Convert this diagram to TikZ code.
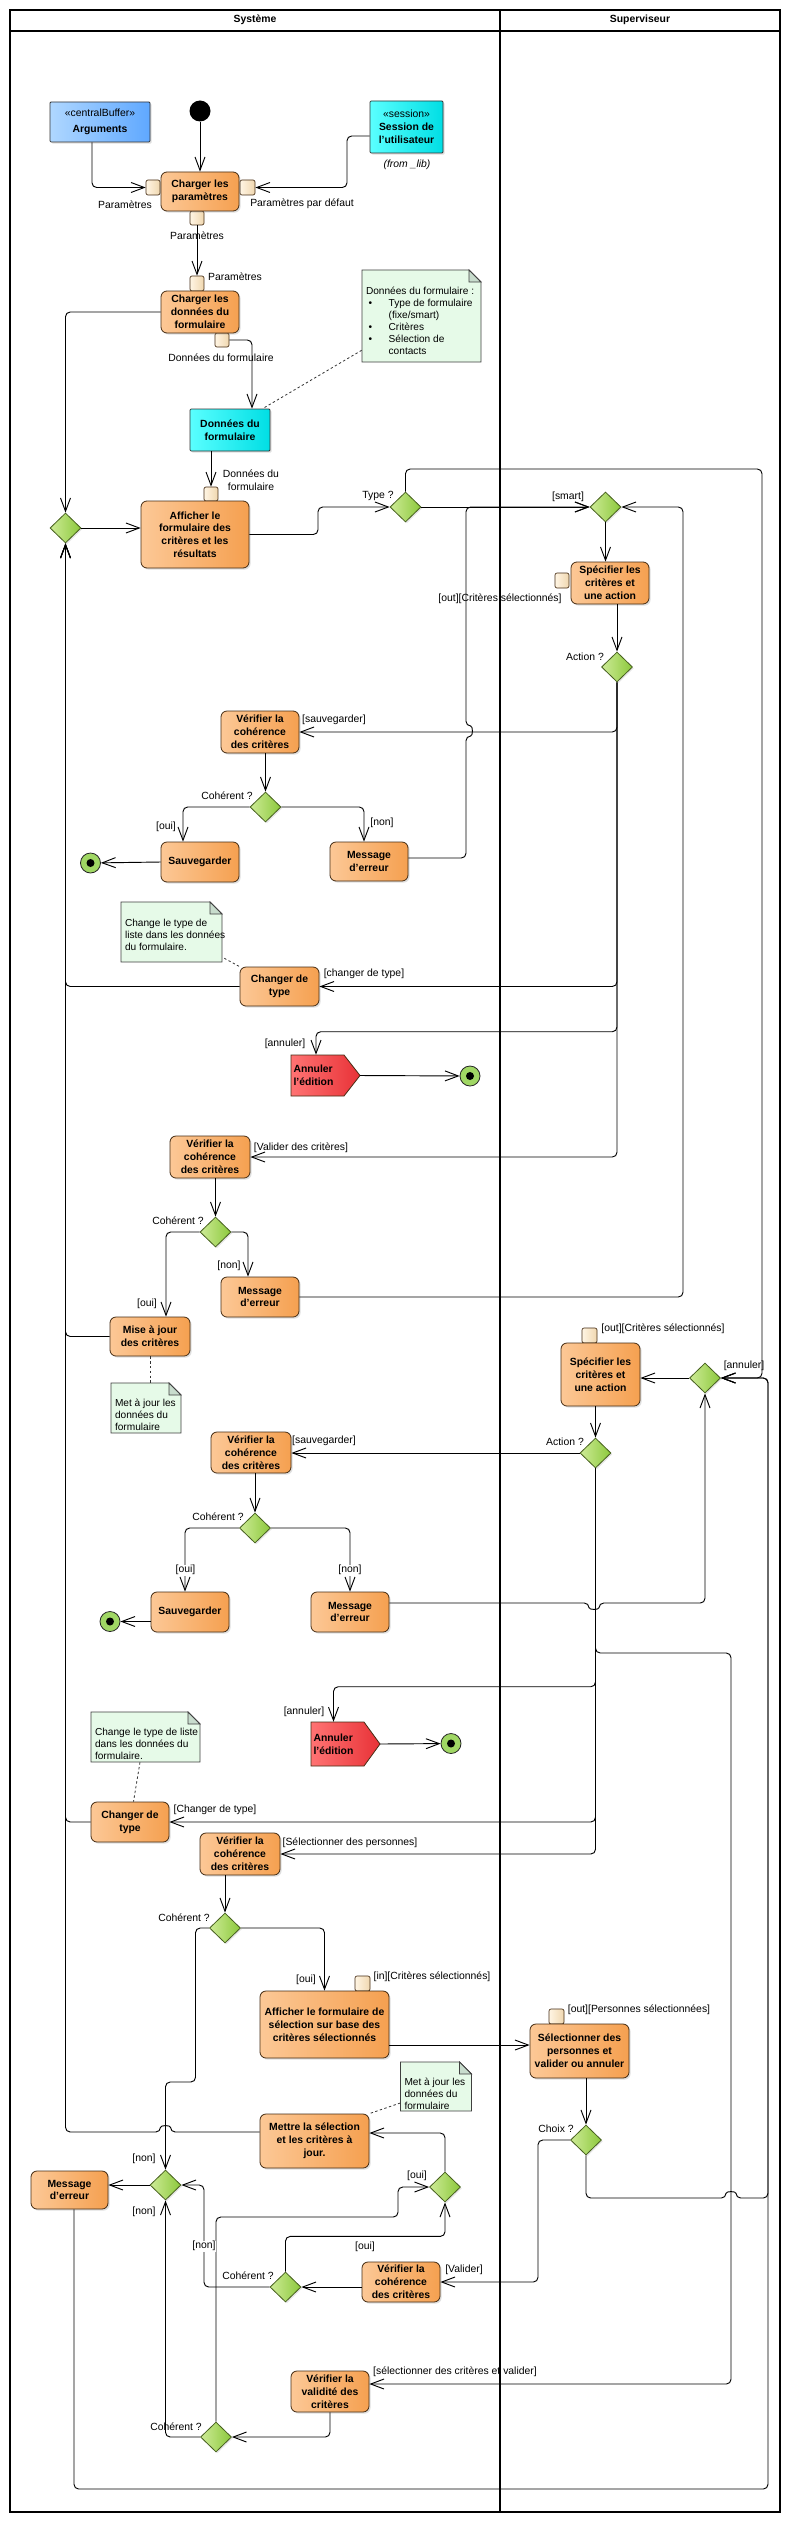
\documentclass[tikz,border=0pt]{standalone}
\usepackage{fontspec}
\setmainfont{Liberation Sans}
\usetikzlibrary{arrows.meta,shapes.geometric,calc,shadows}
\newcommand{\pxu}{0.75pt}
\definecolor{orL}{RGB}{252,200,150}
\definecolor{orR}{RGB}{245,160,80}
\definecolor{bord}{RGB}{70,45,20}
\definecolor{grL}{RGB}{205,235,150}
\definecolor{grR}{RGB}{140,200,60}
\definecolor{grB}{RGB}{70,95,30}
\definecolor{pinL}{RGB}{255,245,228}
\definecolor{pinR}{RGB}{240,215,175}
\definecolor{cyL}{RGB}{90,255,255}
\definecolor{cyR}{RGB}{0,222,228}
\definecolor{blL}{RGB}{175,215,255}
\definecolor{blR}{RGB}{95,168,255}
\definecolor{rdL}{RGB}{255,115,115}
\definecolor{rdR}{RGB}{232,50,55}
\definecolor{noteF}{RGB}{230,250,232}
\definecolor{foldF}{RGB}{200,220,205}
\definecolor{finG}{RGB}{160,215,100}
\tikzset{
  every node/.style={font=\fontsize{7.8pt}{9.6pt}\selectfont, inner sep=1pt},
  sz/.style 2 args={minimum width={(#1)*\pxu}, minimum height={(#2)*\pxu}},
  act/.style={rectangle, rounded corners=4.5pt, draw=bord, line width=0.6pt, left color=orL, right color=orR, align=center, font=\fontsize{7.8pt}{9.6pt}\selectfont\bfseries, drop shadow={opacity=0.25, shadow xshift=1.2pt, shadow yshift=-1.2pt}},
  pinbox/.style={rectangle, rounded corners=1.5pt, draw=bord, line width=0.5pt, left color=pinL, right color=pinR, inner sep=0pt},
  dec/.style={diamond, aspect=1, inner sep=0pt, draw=grB, line width=0.6pt, left color=grL, right color=grR, sz={31}{30}, drop shadow={opacity=0.2, shadow xshift=1pt, shadow yshift=-1pt}},
  obj/.style={rectangle, draw=black!80, line width=0.6pt, align=center, rounded corners=0.8pt, drop shadow={opacity=0.25, shadow xshift=1.2pt, shadow yshift=-1.2pt}},
  cyanobj/.style={obj, left color=cyL, right color=cyR},
  blueobj/.style={obj, left color=blL, right color=blR},
  startn/.style={circle, fill=black, inner sep=0pt, minimum size={21*\pxu}},
  finaln/.style={circle, draw=black!85, line width=0.6pt, fill=finG, inner sep=0pt, minimum size={20*\pxu}, path picture={\fill[black] (path picture bounding box.center) circle (3pt);}},
  flow/.style={draw=black, line width=0.7pt, rounded corners=3.5pt, -{Straight Barb[length=10pt,width=7.5pt]}},
  link/.style={draw=black!80, line width=0.6pt, dash pattern=on 1.8pt off 1.8pt},
  lbl/.style={inner sep=0.5pt, align=center},
  lblw/.style={lbl, fill=white},
  notedraw/.style={draw=black!75, line width=0.6pt, fill=noteF},
  notefold/.style={draw=black!75, line width=0.6pt, fill=foldF},
  notetext/.style={font=\fontsize{7.6pt}{9pt}\selectfont, align=left, inner sep=0pt},
  sigfill/.style={draw=bord, line width=0.6pt, left color=rdL, right color=rdR},
  sigtext/.style={font=\fontsize{7.8pt}{9.6pt}\selectfont\bfseries, align=left, inner sep=0pt},
  lanehead/.style={font=\fontsize{7.8pt}{9.6pt}\selectfont\bfseries},
  lane/.style={draw=black, line width=0.8pt}
}
% name, cx, cy, w, h, text dy, text
\newcommand\notebox[7]{%
  \draw[notedraw] ({#2-#4/2},{#3-#5/2}) -- ({#2+#4/2-12},{#3-#5/2}) -- ({#2+#4/2},{#3-#5/2+12}) -- ({#2+#4/2},{#3+#5/2}) -- ({#2-#4/2},{#3+#5/2}) -- cycle;
  \draw[notefold] ({#2+#4/2-12},{#3-#5/2}) -- ({#2+#4/2-12},{#3-#5/2+12}) -- ({#2+#4/2},{#3-#5/2+12}) -- cycle;
  \node[sz={#4}{#5}, inner sep=0pt] (#1) at (#2,#3) {};
  \node[notetext, anchor=west] (#1t) at ($(#1.west)+(4,#6)$) {#7};
}
% name, x1, x2, xtip, y1, y2, text
\newcommand\sigshape[7]{%
  \draw[sigfill] (#2,#5) -- (#3,#5) -- (#4,{(#5+#6)/2}) -- (#3,#6) -- (#2,#6) -- cycle;
  \node[sigtext, text width=36pt, sz={(#3-#2)}{(#6-#5)}] (#1) at ({(#2+#3)/2},{(#5+#6)/2}) {#7};
  \coordinate (#1tip) at (#4,{(#5+#6)/2});
}
\begin{document}
\begin{tikzpicture}[x=0.75pt,y=-0.75pt]
\useasboundingbox (0,0) rectangle (790,2522);
\fill[white] (0,0) rectangle (790,2522);
% swimlanes
\draw[lane] (10,10) rectangle (780,2512);
\draw[lane] (10,31) -- (780,31);
\draw[lane] (500,10) -- (500,2512);
\node[lanehead] (hsys) at (255,20) {Système};
\node[lanehead] (hsup) at (640,20) {Superviseur};

% notes
\notebox{note1}{421.5}{316}{119}{92}{5}{Données du formulaire :\\
\hspace*{2pt}\makebox[15pt][l]{\textbullet}Type de formulaire\\
\hspace*{17pt}(fixe/smart)\\
\hspace*{2pt}\makebox[15pt][l]{\textbullet}Critères\\
\hspace*{2pt}\makebox[15pt][l]{\textbullet}Sélection de\\
\hspace*{17pt}contacts}
\notebox{note2}{171.5}{932}{101}{60}{3}{Change le type de\\liste dans les données\\du formulaire.}
\notebox{note3}{146}{1408}{70}{50}{7}{Met à jour les\\données du\\formulaire}
\notebox{note4}{145.5}{1737}{109}{50}{7}{Change le type de liste\\dans les données du\\formulaire.}
\notebox{note5}{436}{2086.5}{71}{49}{7.5}{Met à jour les\\données du\\formulaire}

% objects and start
\node[blueobj, sz={100}{40}] (args) at (100,122) {«centralBuffer»\\[2pt]\textbf{Arguments}};
\node[startn] (start) at (200,111) {};
\node[cyanobj, sz={73}{52}] (sess) at (406.5,127) {«session»\\\textbf{Session de}\\\textbf{l'utilisateur}};
\node[lbl, font=\fontsize{7.8pt}{9.6pt}\selectfont\itshape] (fromlib) at (407,165) {(from \_lib)};

% pins
\node[pinbox, sz={14}{15}] (pinL1) at (153,187.5) {};
\node[pinbox, sz={15}{15}] (pinR1) at (247.5,187.5) {};
\node[pinbox, sz={14}{14}] (pinB1) at (197,218) {};
\node[pinbox, sz={14}{15}] (pinT2) at (197,283.5) {};
\node[pinbox, sz={14}{14}] (pinB2) at (222,340) {};
\node[pinbox, sz={14}{14}] (pinT3) at (211,494) {};
\node[pinbox, sz={14}{15}] (pinL4) at (562,580.5) {};
\node[pinbox, sz={15}{15}] (pinT5) at (589.5,1335.5) {};
\node[pinbox, sz={15}{15}] (pinT6) at (362.5,1983.5) {};
\node[pinbox, sz={15}{15}] (pinT7) at (556.5,2016.5) {};

% actions and decisions
\node[act, sz={78}{39}] (chp) at (200,191.5) {Charger les\\paramètres};
\node[act, sz={78}{42}] (cdf) at (200,312) {Charger les\\données du\\formulaire};
\node[cyanobj, sz={80}{42}] (df) at (230,430) {\textbf{Données du}\\\textbf{formulaire}};
\node[act, sz={108}{67}] (aff1) at (195,534.5) {Afficher le\\formulaire des\\critères et les\\résultats};
\node[dec] (merge1) at (65.5,528) {};
\node[dec] (type) at (405.5,507) {};
\node[dec] (smart) at (605.5,507) {};
\node[act, sz={78}{42}] (spec1) at (610,583) {Spécifier les\\critères et\\une action};
\node[dec] (act1) at (617,667) {};
\node[act, sz={78}{42}] (ver1) at (260,732) {Vérifier la\\cohérence\\des critères};
\node[dec] (coh1) at (265.5,807) {};
\node[act, sz={78}{40}] (sauv1) at (200,862) {Sauvegarder};
\node[finaln] (fin1) at (90.5,863) {};
\node[act, sz={78}{39}] (msg1) at (369,861.5) {Message\\d'erreur};
\node[act, sz={79}{39}] (chg1) at (279.5,986.5) {Changer de\\type};
\sigshape{ann1}{291}{344}{360}{1055}{1096}{Annuler\\l'édition}
\node[finaln] (fin2) at (470,1076) {};
\node[act, sz={80}{42}] (ver2) at (210,1157) {Vérifier la\\cohérence\\des critères};
\node[dec] (coh2) at (215.5,1232) {};
\node[act, sz={78}{40}] (msg2) at (260,1297) {Message\\d'erreur};
\node[act, sz={80}{39}] (maj) at (150,1336.5) {Mise à jour\\des critères};
\node[act, sz={79}{63}] (spec2) at (600.5,1374.5) {Spécifier les\\critères et\\une action};
\node[dec] (anndec) at (705,1378) {};
\node[dec] (act2) at (595.5,1453) {};
\node[act, sz={80}{41}] (ver3) at (251,1452.5) {Vérifier la\\cohérence\\des critères};
\node[dec] (coh3) at (255,1528) {};
\node[act, sz={78}{40}] (sauv2) at (190,1612) {Sauvegarder};
\node[finaln] (fin3) at (110,1621.5) {};
\node[act, sz={78}{40}] (msg3) at (350,1612) {Message\\d'erreur};
\sigshape{ann2}{311}{364}{380}{1722}{1766}{Annuler\\l'édition}
\node[finaln] (fin4) at (451,1743.5) {};
\node[act, sz={78}{40}] (chg2) at (130,1822) {Changer de\\type};
\node[act, sz={80}{42}] (ver4) at (240,1854) {Vérifier la\\cohérence\\des critères};
\node[dec] (coh4) at (225,1928) {};
\node[act, sz={129}{67}] (aff2) at (324.5,2024.5) {Afficher le formulaire de\\sélection sur base des\\critères sélectionnés};
\node[act, sz={99}{54}] (sel) at (579.5,2051) {Sélectionner des\\personnes et\\valider ou annuler};
\node[dec] (choix) at (586,2140) {};
\node[act, sz={109}{54}] (mettre) at (314.5,2141) {Mettre la sélection\\et les critères à\\jour.};
\node[dec] (ouim) at (445,2187) {};
\node[dec] (nonm) at (165.5,2185) {};
\node[act, sz={77}{38}] (msg4) at (69.5,2190) {Message\\d'erreur};
\node[dec] (coh5) at (285.5,2287) {};
\node[act, sz={78}{40}] (ver5) at (401,2282) {Vérifier la\\cohérence\\des critères};
\node[act, sz={78}{41}] (valid) at (330,2391.5) {Vérifier la\\validité des\\critères};
\node[dec] (coh6) at (216,2437) {};

% connectors
\draw[flow] ($(args.south)+(-8,0)$) |- (pinL1.west);
\draw[flow] (start) -- (chp.north);
\draw[flow] ($(sess.west)+(0,9)$) -| (347,160) |- (pinR1.east);
\draw[flow] (pinB1.south) -- (pinT2.north);
\draw[flow] (pinB2.east) -| ($(df.north)+(22,0)$);
\draw[link] ($(note1.south west)+(0,-12)$) -- ($(df.north east)+(-6,-1)$);
\draw[flow] (pinT3.north |- df.south) -- (pinT3.north);
\draw[flow] (cdf.west) -| (merge1.north);
\draw[flow] (merge1.east) -- (merge1.east -| aff1.west);
\draw[flow] (aff1.east) -| (318,520) |- (type.west);
\draw[flow] (type.north) |- (762,469) |- (anndec.east);
\draw[flow] (type.east) -- (smart.west);
\draw[flow] (smart.south) -- (smart.south |- spec1.north);
\draw[flow] (act1.north |- spec1.south) -- (act1.north);
\draw[flow] (act1.south) |- (ver1.east);
\draw[flow] (coh1.north |- ver1.south) -- (coh1.north);
\draw[flow] (coh1.west) -| ($(sauv1.north)+(-17,0)$);
\draw[flow] (coh1.east) -| ($(msg1.north)+(-5,0)$);
\draw[flow] (sauv1.west) -- (fin1);
\draw[flow] ($(msg1.east)+(0,-3.5)$) -- (466,858) -- (466,736) .. controls (473,736) and (473,726) .. (466,726) |- (smart.west);
\draw[flow] (act1.south) |- (chg1.east);
\draw[link] ($(note2.south east)+(2,-4)$) -- (chg1.north west);
\draw[flow] (chg1.west) -| (merge1.south);
\draw[flow] (act1.south) |- ($(ann1.north)+(-1.5,-23)$) -- ($(ann1.north)+(-1.5,0)$);
\draw[flow] (ann1tip) -- (fin2);
\draw[flow] (act1.south) |- (ver2.east);
\draw[flow] (coh2.north |- ver2.south) -- (coh2.north);
\draw[flow] (coh2.west) -| ($(maj.north)+(16,0)$);
\draw[flow] (coh2.east) -| ($(msg2.north)+(-12,0)$);
\draw[flow] (msg2.east) -| (683,900) |- (smart.east);
\draw[flow] (maj.west) -| (merge1.south);
\draw[link] (maj.south) -- (maj.south |- note3.north);
\draw[flow] (anndec.west) -- (anndec.west -| spec2.east);
\draw[flow] (act2.north |- spec2.south) -- (act2.north);
\draw[flow] (act2.west) -- (act2.west -| ver3.east);
\draw[flow] (coh3.north |- ver3.south) -- (coh3.north);
\draw[flow] (coh3.west) -| ($(sauv2.north)+(-5,0)$);
\draw[flow] (coh3.east) -| (msg3.north);
\draw[flow] (sauv2.west |- fin3) -- (fin3);
\draw[flow] ($(msg3.east)+(0,-9)$) -- (589,1603) .. controls (589,1610) and (599,1610) .. (599,1603) -| (anndec.south);
\draw[flow] (act2.south) |- (731,1653) |- ($(valid.east)+(0,-7.5)$);
\draw[flow] (act2.south) |- ($(ann2.north)+(-4,-35)$) -- ($(ann2.north)+(-4,0)$);
\draw[flow] (ann2tip) -- (fin4);
\draw[flow] (act2.south) |- (chg2.east);
\draw[link] ($(note4.south)+(-5.5,0)$) -- ($(chg2.north)+(3.5,0)$);
\draw[flow] (chg2.west) -| (merge1.south);
\draw[flow] (act2.south) |- (ver4.east);
\draw[flow] (coh4.north |- ver4.south) -- (coh4.north);
\draw[flow] (coh4.east) -| (aff2.north);
\draw[flow] (coh4.west) -| (195.5,2082) -| (nonm.north);
\coordinate (a2o) at ($(aff2.east)+(0,20.5)$);
\draw[flow] (a2o) -- (a2o -| sel.west);
\draw[flow] (choix.north |- sel.south) -- (choix.north);
\draw[link] ($(note5.west)+(0,16.5)$) -- (mettre.north east);
\draw[flow] (choix.west) -| (538,2200) |- (ver5.east);
\draw[flow] (choix.south) |- (726,2198) .. controls (726,2191) and (736,2191) .. (736,2198) -- (768,2198) |- (anndec.east);
\draw[flow] ($(msg4.south)+(4.5,0)$) |- (768,2489) |- (anndec.east);
\draw[flow] ($(mettre.west)+(0,-9)$) -- (170.5,2132) .. controls (170.5,2125) and (160.5,2125) .. (160.5,2132) -| (merge1.south);
\draw[flow] (ouim.north) |- ($(mettre.east)+(0,-8)$);
\draw[flow] (coh6.north) |- (398,2217) |- (ouim.west);
\draw[flow] (coh5.north) |- ($(ouim.south)+(0,34)$) -- (ouim.south);
\draw[flow] (ver5.west |- coh5.east) -- (coh5.east);
\draw[flow] (coh5.west) -| (204,2220) |- (nonm.east);
\draw[flow] (nonm.west) -- (nonm.west -| msg4.east);
\draw[flow] (valid.south) |- (coh6.east);
\draw[flow] (coh6.west) -| (nonm.south);

% labels
\node[lbl] (l1) at (125,205) {Paramètres};
\node[lbl] (l2) at (302,204) {Paramètres par défaut};
\node[lbl] (l3) at (197,236) {Paramètres};
\node[lbl] (l4) at (235,277) {Paramètres};
\node[lbl] (l5) at (221,358) {Données du formulaire};
\node[lbl] (l6) at (251,480.5) {Données du\\formulaire};
\node[lbl] (l7) at (378,496) {Type ?};
\node[lbl] (l8) at (568,497) {[smart]};
\node[lbl] (l9) at (500,599) {[out][Critères sélectionnés]};
\node[lbl] (l10) at (585,657) {Action ?};
\node[lbl] (l11) at (334,720) {[sauvegarder]};
\node[lbl] (l12) at (227,796) {Cohérent ?};
\node[lbl] (l13) at (166,827) {[oui]};
\node[lbl] (l14) at (382,823) {[non]};
\node[lbl] (l15) at (364,974) {[changer de type]};
\node[lbl] (l16) at (285,1044) {[annuler]};
\node[lbl] (l17) at (301,1148) {[Valider des critères]};
\node[lbl] (l18) at (178,1221) {Cohérent ?};
\node[lbl] (l19) at (229,1266) {[non]};
\node[lbl] (l20) at (147,1304) {[oui]};
\node[lbl] (l21) at (663,1329) {[out][Critères sélectionnés]};
\node[lbl] (l22) at (744,1366) {[annuler]};
\node[lbl] (l23) at (565,1442) {Action ?};
\node[lbl] (l24) at (324,1441) {[sauvegarder]};
\node[lbl] (l25) at (218,1517) {Cohérent ?};
\node[lblw] (l26) at (185.5,1570) {[oui]};
\node[lblw] (l27) at (350,1570) {[non]};
\node[lbl] (l28) at (304,1712) {[annuler]};
\node[lbl] (l29) at (215,1810) {[Changer de type]};
\node[lbl] (l30) at (350,1843) {[Sélectionner des personnes]};
\node[lbl] (l31) at (184,1918) {Cohérent ?};
\node[lbl] (l32) at (306,1980) {[oui]};
\node[lbl] (l33) at (432,1977) {[in][Critères sélectionnés]};
\node[lbl] (l34) at (639,2010) {[out][Personnes sélectionnées]};
\node[lbl] (l35) at (556,2129) {Choix ?};
\node[lbl] (l36) at (144,2159) {[non]};
\node[lbl] (l37) at (417,2176) {[oui]};
\node[lbl] (l38) at (144,2212) {[non]};
\node[lblw] (l39) at (204,2246) {[non]};
\node[lbl] (l40) at (365,2247) {[oui]};
\node[lbl] (l41) at (248,2276) {Cohérent ?};
\node[lbl] (l42) at (464,2270) {[Valider]};
\node[lbl] (l43) at (455,2372) {[sélectionner des critères et valider]};
\node[lbl] (l44) at (176,2427) {Cohérent ?};
\end{tikzpicture}
\end{document}
